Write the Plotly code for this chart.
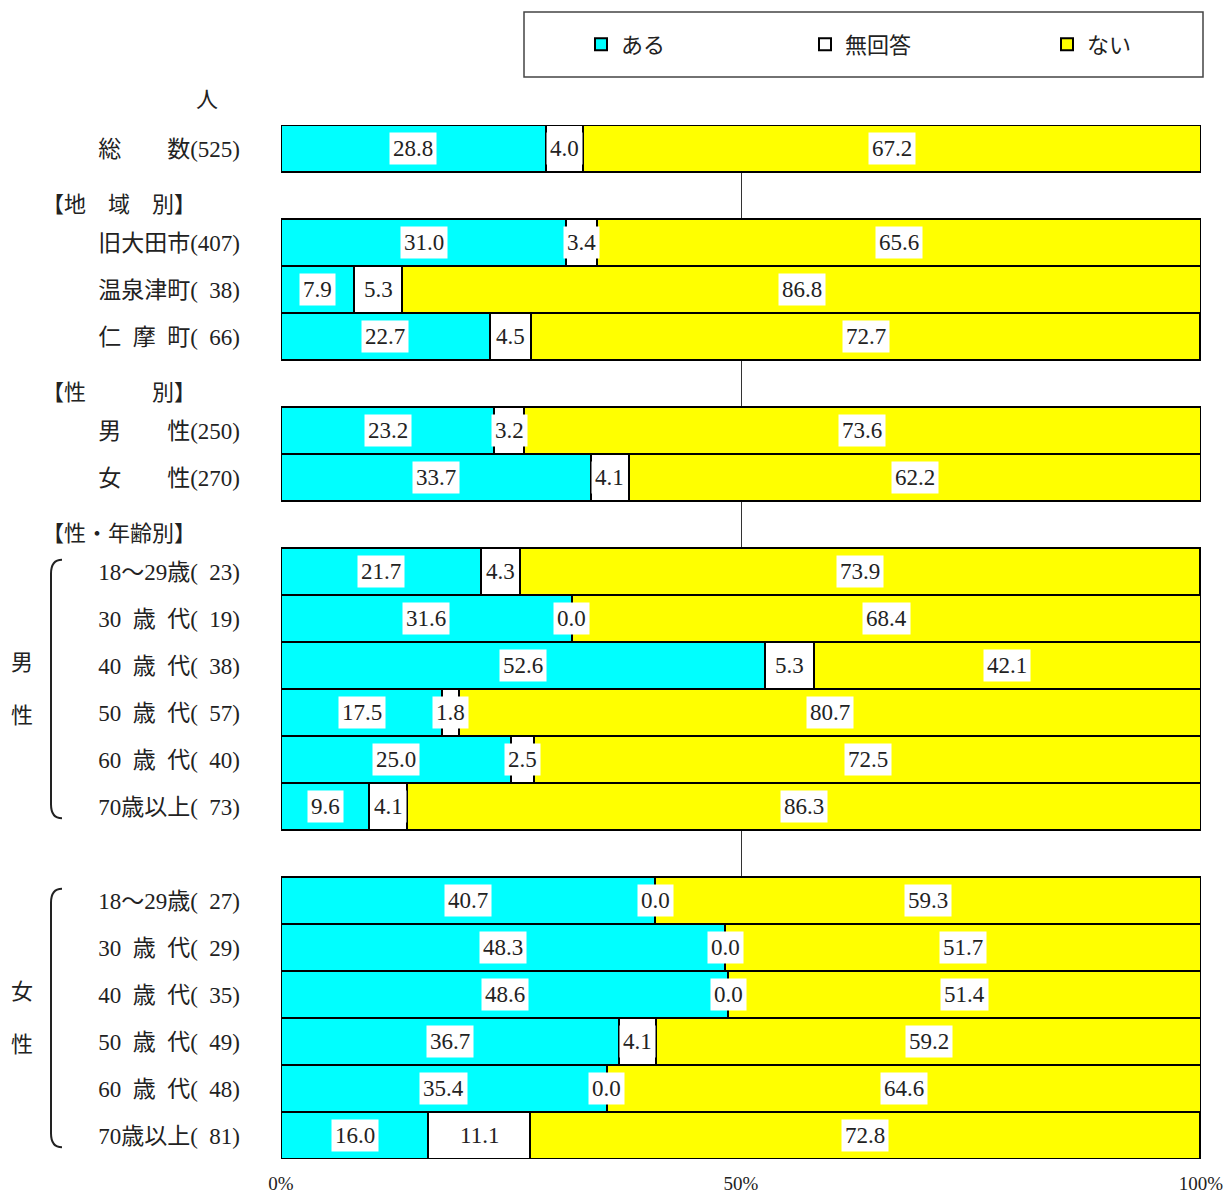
import plotly.graph_objects as go

# ---- data -------------------------------------------------------------
SP = "\u2002"  # half-width (en) space used inside the row labels
categories = [
    "総　　数(525)",
    "旧大田市(407)", f"温泉津町({SP}38)", f"仁{SP}摩{SP}町({SP}66)",
    "男　　性(250)", "女　　性(270)",
    f"18～29歳({SP}23)", f"30{SP}歳{SP}代({SP}19)", f"40{SP}歳{SP}代({SP}38)",
    f"50{SP}歳{SP}代({SP}57)", f"60{SP}歳{SP}代({SP}40)", f"70歳以上({SP}73)",
    f"18～29歳({SP}27)", f"30{SP}歳{SP}代({SP}29)", f"40{SP}歳{SP}代({SP}35)",
    f"50{SP}歳{SP}代({SP}49)", f"60{SP}歳{SP}代({SP}48)", f"70歳以上({SP}81)",
]
aru = [28.8, 31.0, 7.9, 22.7, 23.2, 33.7, 21.7, 31.6, 52.6, 17.5, 25.0, 9.6,
       40.7, 48.3, 48.6, 36.7, 35.4, 16.0]
mukaito = [4.0, 3.4, 5.3, 4.5, 3.2, 4.1, 4.3, 0.0, 5.3, 1.8, 2.5, 4.1,
           0.0, 0.0, 0.0, 4.1, 0.0, 11.1]
nai = [67.2, 65.6, 86.8, 72.7, 73.6, 62.2, 73.9, 68.4, 42.1, 80.7, 72.5, 86.3,
       59.3, 51.7, 51.4, 59.2, 64.6, 72.8]

series_names = ["ある", "無回答", "ない"]
group_titles = ["", "【地　域　別】", "【性　　　別】", "【性・年齢別】", ""]
group_sizes = [1, 3, 2, 6, 6]
side_labels = [("男", "性"), ("女", "性")]   # for the two age groups
tick_labels = ["0%", "50%", "100%"]

# ---- layout helpers ---------------------------------------------------
W, H = 1229, 1198
ML, MR, MT, MB = 281, 28, 125, 39
PW, PH = W - ML - MR, H - MT - MB


def xp(px):
    return (px - ML) / PW


def yp(py):
    return (H - MB - py) / PH


FONT = "Liberation Serif, Noto Sans CJK JP, serif"
TXT = "#222"

# slot index of every bar row; one empty slot before each group after the first
slots, header_slots = [], []
s = 0
for gi, n in enumerate(group_sizes):
    if gi > 0:
        header_slots.append((s, group_titles[gi]))
        s += 1
    for _ in range(n):
        slots.append(s)
        s += 1
n_slots = s

colors = ["#00FFFF", "#FFFFFF", "#FFFF00"]
values = [aru, mukaito, nai]
legend_ids = ["legend", "legend2", "legend3"]
legend_px = [601, 825, 1067]   # centre of each legend swatch

fig = go.Figure()
for name, vals, col, lid in zip(series_names, values, colors, legend_ids):
    fig.add_trace(go.Bar(
        y=slots, x=vals, name=name, orientation="h", width=0.98,
        marker=dict(color=col, line=dict(color="black", width=2)),
        hoverinfo="x+name", legend=lid,
    ))

annotations = []
# value labels centred on each segment
for i, sl in enumerate(slots):
    left = 0.0
    for vals in values:
        v = vals[i]
        annotations.append(dict(
            x=left + v / 2, y=sl, xref="x", yref="y", text=f"{v:.1f}",
            showarrow=False, bgcolor="white", borderpad=3,
            xanchor="center", yanchor="middle",
            font=dict(family=FONT, size=23, color=TXT),
        ))
        left += v

# group headers in the empty rows
for sl, title in header_slots:
    if title:
        annotations.append(dict(
            x=xp(40), y=sl + 0.2, xref="paper", yref="y", text=title,
            xanchor="left", yanchor="middle", showarrow=False,
            font=dict(family=FONT, size=22, color=TXT),
        ))

annotations.append(dict(
    x=xp(207), y=yp(100), xref="paper", yref="paper", text="人",
    xanchor="center", yanchor="middle", showarrow=False,
    font=dict(family=FONT, size=22, color=TXT),
))

# side labels and brackets for the two age groups
shapes = []
age_groups = [slots[6:12], slots[12:18]]
for (c1, c2), grp in zip(side_labels, age_groups):
    top, bot = grp[0] - 0.25, grp[-1] + 0.25
    mid = (grp[0] + grp[-1]) / 2
    for ch, off in ((c1, -0.57), (c2, 0.57)):
        annotations.append(dict(
            x=xp(22), y=mid + off, xref="paper", yref="y", text=ch,
            xanchor="center", yanchor="middle", showarrow=False,
            font=dict(family=FONT, size=22, color=TXT)))
    ytop = yp(MT + (top + 0.5) * PH / n_slots)
    ybot = yp(MT + (bot + 0.5) * PH / n_slots)
    x0, x1 = xp(51), xp(62)
    r = 14 / PH
    path = (f"M {x1},{ytop} Q {x0},{ytop} {x0},{ytop - r} "
            f"L {x0},{ybot + r} Q {x0},{ybot} {x1},{ybot}")
    shapes.append(dict(type="path", path=path, xref="paper", yref="paper",
                       line=dict(color=TXT, width=2)))

# legend frame
shapes.append(dict(type="rect", xref="paper", yref="paper",
                   x0=xp(524), x1=xp(1203), y0=yp(77), y1=yp(12),
                   line=dict(color="#444", width=1.5), fillcolor="rgba(0,0,0,0)"))

legend_common = dict(
    orientation="h", yanchor="middle", xanchor="left",
    font=dict(family=FONT, size=22, color=TXT),
    bgcolor="rgba(0,0,0,0)", borderwidth=0,
)
legends = {}
for lid, cx in zip(legend_ids, legend_px):
    legends[lid] = dict(legend_common, x=xp(cx - 20), y=yp(44.5))

fig.update_layout(
    width=W, height=H,
    margin=dict(l=ML, r=MR, t=MT, b=MB, pad=0, autoexpand=False),
    paper_bgcolor="white", plot_bgcolor="white",
    barmode="stack", bargap=0,
    showlegend=True,
    xaxis=dict(
        range=[0, 100], tickvals=[0, 50, 100], ticktext=tick_labels,
        showgrid=True, gridcolor="#333", gridwidth=1, zeroline=False,
        showline=False, ticks="", ticklabelstandoff=11, automargin=False,
        tickfont=dict(family=FONT, size=19, color=TXT), fixedrange=True,
    ),
    yaxis=dict(
        range=[n_slots - 0.5, -0.5], tickvals=slots, ticktext=categories,
        showgrid=False, zeroline=False, showline=False, ticks="",
        ticklabelstandoff=40, automargin=False,
        tickfont=dict(family=FONT, size=23, color=TXT), fixedrange=True,
    ),
    annotations=annotations,
    shapes=shapes,
    **legends,
)

fig.write_html("out.html")
